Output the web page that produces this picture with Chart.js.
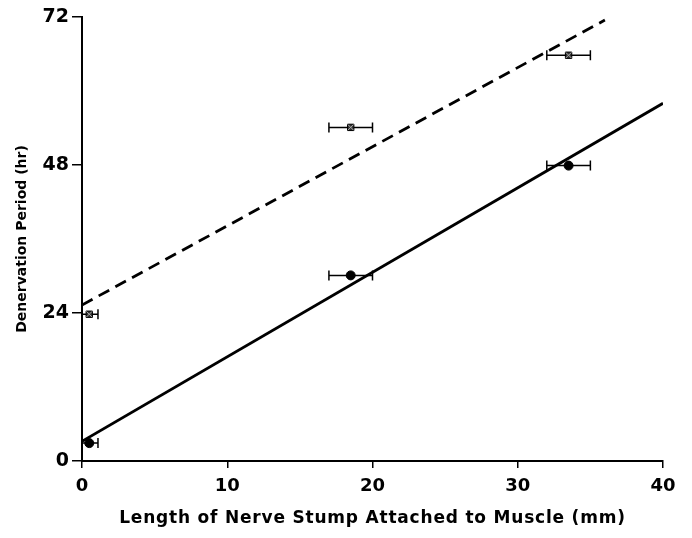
<!DOCTYPE html>
<html>
<head>
<meta charset="utf-8">
<script src="https://cdn.jsdelivr.net/npm/chart.js@4/dist/chart.umd.min.js"></script>
<style>
  body { margin: 0; background: #fff; }
</style>
</head>
<body>
<canvas id="myChart" width="692" height="538"></canvas>
<script>
// measured points (mm, hr) and their x error (half width)
const stumpLength = [0.5, 18.5, 33.5];
const stumpErr = [0.6, 1.5, 1.5];
const periodSolid = [2.9, 30.1, 47.9];
const periodDashed = [23.8, 54.1, 65.8];

// fitted lines
const fitSolidX = [0, 40];
const fitSolidY = [3.2, 58.0];
const fitDashedX = [0, 36];
const fitDashedY = [25.3, 71.5];

const xTicks = [0, 10, 20, 30, 40];
const yTicks = [0, 24, 48, 72];

const toPoints = (xs, ys) => xs.map((x, i) => ({ x: x, y: ys[i] }));

// horizontal error bars drawn through the chart's scales
const errorBars = {
    id: 'errorBars',
    beforeDatasetsDraw(chart) {
        const ctx = chart.ctx;
        const xs = chart.scales.x;
        const ys = chart.scales.y;
        const area = chart.chartArea;
        ctx.save();
        ctx.beginPath();
        ctx.rect(area.left, area.top - 10, area.right - area.left + 10, area.bottom - area.top + 10);
        ctx.clip();
        ctx.strokeStyle = '#000';
        ctx.lineWidth = 1.5;
        [periodSolid, periodDashed].forEach(series => {
            series.forEach((v, i) => {
                const y = ys.getPixelForValue(v);
                const x1 = xs.getPixelForValue(stumpLength[i] - stumpErr[i]);
                const x2 = xs.getPixelForValue(stumpLength[i] + stumpErr[i]);
                ctx.beginPath();
                ctx.moveTo(x1, y);
                ctx.lineTo(x2, y);
                ctx.moveTo(x1, y - 5);
                ctx.lineTo(x1, y + 5);
                ctx.moveTo(x2, y - 5);
                ctx.lineTo(x2, y + 5);
                ctx.stroke();
            });
        });
        ctx.restore();
    }
};

// the x title in the original is set wide, so space its letters out a bit
const wideTitle = {
    id: 'wideTitle',
    afterLayout(chart) {
        const s = chart.scales.x;
        if (s._wide) return;
        const orig = s.drawTitle;
        s.drawTitle = function () {
            this.ctx.save();
            this.ctx.letterSpacing = '0.8px';
            orig.apply(this, arguments);
            this.ctx.restore();
        };
        s._wide = true;
    }
};

const ctx = document.getElementById('myChart').getContext('2d');
new Chart(ctx, {
    type: 'scatter',
    data: {
        datasets: [
            {
                data: toPoints(fitSolidX, fitSolidY),
                showLine: true,
                borderColor: '#000',
                borderWidth: 2.8,
                pointRadius: 0,
                order: 3
            },
            {
                data: toPoints(fitDashedX, fitDashedY),
                showLine: true,
                borderColor: '#000',
                borderWidth: 2.8,
                borderDash: [12, 7],
                pointRadius: 0,
                order: 3
            },
            {
                data: toPoints(stumpLength, periodSolid),
                pointStyle: 'circle',
                pointRadius: 4.5,
                backgroundColor: '#000',
                borderColor: '#000',
                order: 2
            },
            {
                data: toPoints(stumpLength, periodDashed),
                pointStyle: 'rect',
                pointRadius: 4.5,
                backgroundColor: '#333',
                borderColor: '#000',
                borderWidth: 1,
                order: 1
            },
            {
                data: toPoints(stumpLength, periodDashed),
                pointStyle: 'crossRot',
                pointRadius: 4,
                borderColor: '#aaa',
                borderWidth: 1,
                order: 0
            }
        ]
    },
    options: {
        responsive: false,
        animation: false,
        layout: { padding: { left: 0, right: 29, top: 17, bottom: 0 } },
        plugins: {
            legend: { display: false },
            tooltip: { enabled: false }
        },
        scales: {
            x: {
                type: 'linear',
                min: 0,
                max: 40,
                afterBuildTicks: axis => { axis.ticks = xTicks.map(v => ({ value: v })); },
                afterFit: axis => { axis.height = 77; },
                border: { display: true, color: '#000', width: 2 },
                grid: { drawOnChartArea: false, drawTicks: true, tickLength: 7, color: '#000', lineWidth: 1.5 },
                ticks: {
                    color: '#000',
                    padding: 8,
                    maxRotation: 0,
                    font: { family: 'DejaVu Sans', size: 18, weight: 'bold' }
                },
                title: {
                    display: true,
                    text: 'Length of Nerve Stump Attached to Muscle (mm)',
                    color: '#000',
                    padding: { top: 10, bottom: 9 },
                    font: { family: 'DejaVu Sans', size: 17, weight: 'bold' }
                }
            },
            y: {
                type: 'linear',
                min: 0,
                max: 72,
                afterBuildTicks: axis => { axis.ticks = yTicks.map(v => ({ value: v })); },
                afterFit: axis => { axis.width = 82; },
                border: { display: true, color: '#000', width: 2 },
                grid: { drawOnChartArea: false, drawTicks: true, tickLength: 10, color: '#000', lineWidth: 1.5 },
                ticks: {
                    color: '#000',
                    padding: 3,
                    font: { family: 'DejaVu Sans', size: 19, weight: 'bold' }
                },
                title: {
                    display: true,
                    text: 'Denervation Period (hr)',
                    color: '#000',
                    padding: { top: 14, bottom: 8 },
                    font: { family: 'DejaVu Sans', size: 14, weight: 'bold' }
                }
            }
        }
    },
    plugins: [errorBars, wideTitle]
});
</script>
</body>
</html>
